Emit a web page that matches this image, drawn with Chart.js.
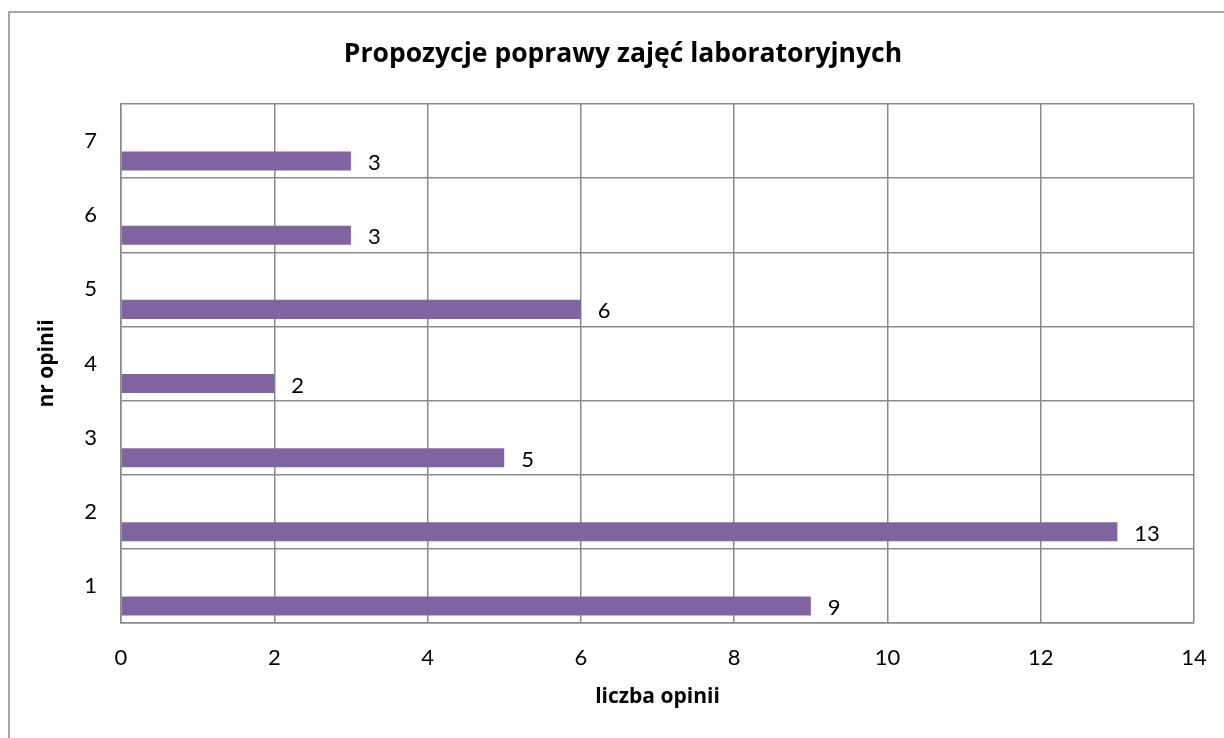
<!DOCTYPE html>
<html>
<head>
<meta charset="utf-8">
<script src="https://cdn.jsdelivr.net/npm/chart.js@4.4.0/dist/chart.umd.min.js"></script>
<style>
  html, body { margin: 0; padding: 0; background: #fff; }
  #wrap { width: 1224px; height: 738px; position: relative; }
</style>
</head>
<body>
<div id="wrap"><canvas id="opinieChart"></canvas></div>
<script>
const kategorie = ['1', '2', '3', '4', '5', '6', '7'];
const liczbaOpinii = [9, 13, 5, 2, 6, 3, 3];
const puste = [null, null, null, null, null, null, null];
const tytul = 'Propozycje poprawy zajęć laboratoryjnych';
const tytulX = 'liczba opinii';
const tytulY = 'nr opinii';

Chart.defaults.font.family = 'Lato';
Chart.defaults.color = '#000';

// ramka wokol wykresu + tytul (wysrodkowany jak w Excelu)
const ramka = {
    id: 'ramka',
    beforeDraw(chart) {
        const ctx = chart.ctx;
        ctx.save();
        ctx.strokeStyle = '#8c8c8c';
        ctx.lineWidth = 1.5;
        ctx.strokeRect(9, 12, 1400, 900);
        ctx.font = 'bold 26.5px "Open Sans"';
        ctx.fillStyle = '#000';
        ctx.textAlign = 'center';
        ctx.textBaseline = 'middle';
        ctx.fillText(tytul, 623, 54);
        ctx.restore();
    }
};

// etykiety wartosci przy slupkach
const etykiety = {
    id: 'etykiety',
    afterDatasetsDraw(chart) {
        const ctx = chart.ctx;
        const meta = chart.getDatasetMeta(1);
        ctx.save();
        ctx.font = '22px Lato';
        ctx.fillStyle = '#000';
        ctx.textAlign = 'left';
        ctx.textBaseline = 'middle';
        meta.data.forEach((bar, i) => {
            ctx.fillText(String(liczbaOpinii[i]), bar.x + 17, bar.y + 2);
        });
        ctx.restore();
    }
};

const ctx = document.getElementById('opinieChart').getContext('2d');
const opinieChart = new Chart(ctx, {
    type: 'bar',
    data: {
        labels: kategorie,
        datasets: [{
            label: '',
            data: puste,
            backgroundColor: '#8064A2'
        }, {
            label: 'Seria1',
            data: liczbaOpinii,
            backgroundColor: '#8064A2'
        }]
    },
    options: {
        indexAxis: 'y',
        responsive: true,
        maintainAspectRatio: false,
        animation: false,
        datasets: {
            bar: { categoryPercentage: 1.08, barPercentage: 0.475 }
        },
        layout: {
            padding: { left: 0, right: 30, top: 104, bottom: 0 }
        },
        plugins: {
            legend: { display: false },
            tooltip: { enabled: false },
            title: { display: false }
        },
        scales: {
            x: {
                min: 0,
                max: 14,
                ticks: { stepSize: 2, padding: 22, font: { size: 22 } },
                grid: { color: '#8a8a8a', lineWidth: 1.5, drawTicks: false },
                border: { color: '#8a8a8a', width: 1.5 },
                title: {
                    display: true,
                    text: tytulX,
                    font: { family: 'Open Sans', size: 21, weight: 'bold' },
                    padding: { top: 0, bottom: 28 }
                },
                afterFit(scale) {
                    scale.height = 115;
                    scale.paddingLeft = 0;
                    scale.paddingRight = 0;
                }
            },
            y: {
                reverse: true,
                ticks: { padding: 24, font: { size: 22 } },
                grid: { color: '#8a8a8a', lineWidth: 1.5, drawTicks: false },
                border: { color: '#8a8a8a', width: 1.5 },
                title: {
                    display: true,
                    text: tytulY,
                    font: { family: 'Open Sans', size: 21, weight: 'bold' },
                    padding: { top: 34, bottom: 0 }
                },
                afterFit(scale) { scale.width = 121; }
            }
        }
    },
    plugins: [ramka, etykiety]
});
</script>
</body>
</html>
